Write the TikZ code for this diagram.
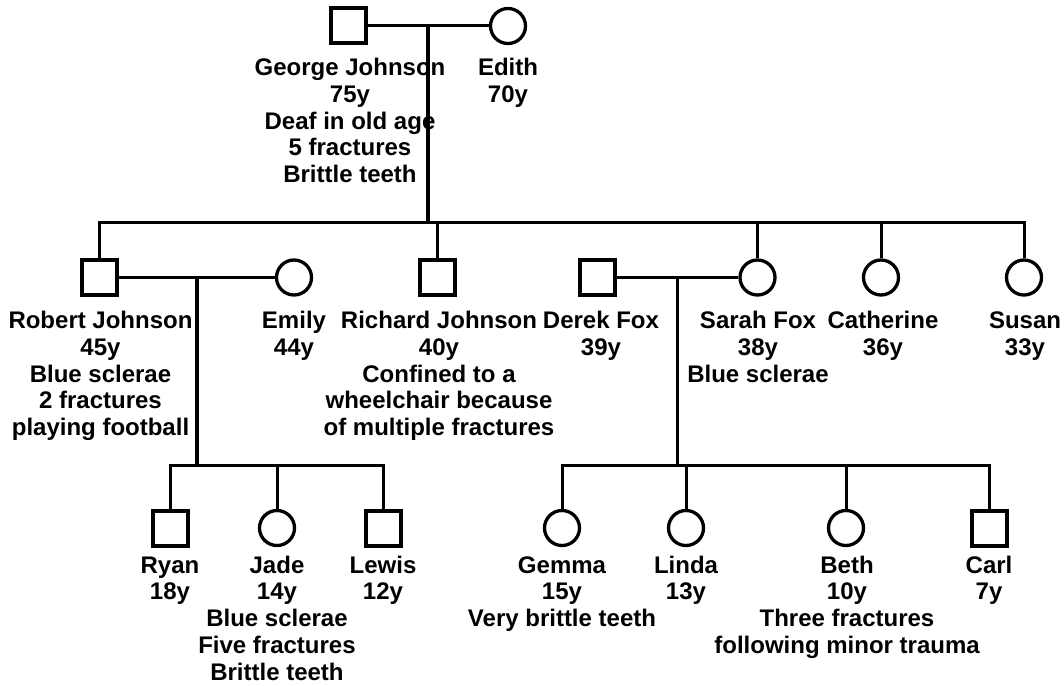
\documentclass[tikz,border=0pt]{standalone}
\usepackage{fontspec}
\setmainfont{Liberation Sans}
\usetikzlibrary{calc}
\newcommand{\pedlines}[1]{\vtop{\let\\\cr\halign{\hfil##\hfil\cr#1\crcr}}}
\begin{document}
\begin{tikzpicture}[x=1pt,y=-1pt,
  male/.style={draw, rectangle, line width=4pt, minimum size=35pt, inner sep=0pt},
  female/.style={draw, circle, line width=3.3pt, minimum size=35pt, inner sep=0pt},
  lbl/.style={anchor=base, inner sep=0pt, font=\bfseries\fontsize{24}{26.8}\selectfont},
  link/.style={line width=3pt},
  desc/.style={line width=3.5pt}]
\useasboundingbox (0,0) rectangle (1064,685);
% generation I
\node[male] (george) at (348,26) {};
\node[female] (edith) at (508,26) {};
% generation II
\node[male] (robert) at (99.5,277.5) {};
\node[female] (emily) at (294,277.5) {};
\node[male] (richard) at (437,277.5) {};
\node[male] (derek) at (597,277.5) {};
\node[female] (sarah) at (757.5,277.5) {};
\node[female] (catherine) at (881,277.5) {};
\node[female] (susan) at (1024,277.5) {};
% generation III
\node[male] (ryan) at (170,528) {};
\node[female] (jade) at (277,528) {};
\node[male] (lewis) at (383,528) {};
\node[female] (gemma) at (562,528) {};
\node[female] (linda) at (686,528) {};
\node[female] (beth) at (846,528) {};
\node[male] (carl) at (989,528) {};
% labels
\node[lbl] (lgeorge) at (350,75.5) {\pedlines{George Johnson\\75y\\Deaf in old age\\5 fractures\\Brittle teeth}};
\node[lbl] (ledith) at (508,75.5) {\pedlines{Edith\\70y}};
\node[lbl] (lrobert) at (100.5,328.5) {\pedlines{Robert Johnson\\45y\\Blue sclerae\\2 fractures\\playing football}};
\node[lbl] (lemily) at (294,328.5) {\pedlines{Emily\\44y}};
\node[lbl] (lrichard) at (439,328.5) {\pedlines{Richard Johnson\\40y\\Confined to a\\wheelchair because\\of multiple fractures}};
\node[lbl] (lderek) at (601,328.5) {\pedlines{Derek Fox\\39y}};
\node[lbl] (lsarah) at (758,328.5) {\pedlines{Sarah Fox\\38y\\Blue sclerae}};
\node[lbl] (lcatherine) at (883,328.5) {\pedlines{Catherine\\36y}};
\node[lbl] (lsusan) at (1025,328.5) {\pedlines{Susan\\33y}};
\node[lbl] (lryan) at (170,573) {\pedlines{Ryan\\18y}};
\node[lbl] (ljade) at (277,573) {\pedlines{Jade\\14y\\Blue sclerae\\Five fractures\\Brittle teeth}};
\node[lbl] (llewis) at (383,573) {\pedlines{Lewis\\12y}};
\node[lbl] (lgemma) at (562,573) {\pedlines{Gemma\\15y\\Very brittle teeth}};
\node[lbl] (llinda) at (686,573) {\pedlines{Linda\\13y}};
\node[lbl] (lbeth) at (847,573) {\pedlines{Beth\\10y\\Three fractures\\following minor trauma}};
\node[lbl] (lcarl) at (989,573) {\pedlines{Carl\\7y}};
% helper coordinates
\coordinate (sibA) at (0,222);
\coordinate (sibB) at (0,465);
\coordinate (m1) at ($(george.east)!0.5!(edith.west)$);
\coordinate (m2) at ($(robert.east)!0.5!(emily.west)$);
\coordinate (m3) at ($(derek.east)!0.5!(sarah.west)$);
% generation I family
\draw[link] (george) -- (edith);
\draw[desc] (m1) -- (m1 |- sibA);
\draw[link] (robert.north) -- (robert.north |- sibA) -- (susan.north |- sibA) -- (susan.north);
\draw[link] (richard.north) -- (richard.north |- sibA);
\draw[link] (sarah.north) -- (sarah.north |- sibA);
\draw[link] (catherine.north) -- (catherine.north |- sibA);
% Robert + Emily family
\draw[link] (robert) -- (emily);
\draw[desc] (m2) -- (m2 |- sibB);
\draw[link] (ryan.north) -- (ryan.north |- sibB) -- (lewis.north |- sibB) -- (lewis.north);
\draw[link] (jade.north) -- (jade.north |- sibB);
% Derek + Sarah family
\draw[link] (derek) -- (sarah);
\draw[desc] (m3) -- (m3 |- sibB);
\draw[link] (gemma.north) -- (gemma.north |- sibB) -- (carl.north |- sibB) -- (carl.north);
\draw[link] (linda.north) -- (linda.north |- sibB);
\draw[link] (beth.north) -- (beth.north |- sibB);
\end{tikzpicture}
\end{document}
